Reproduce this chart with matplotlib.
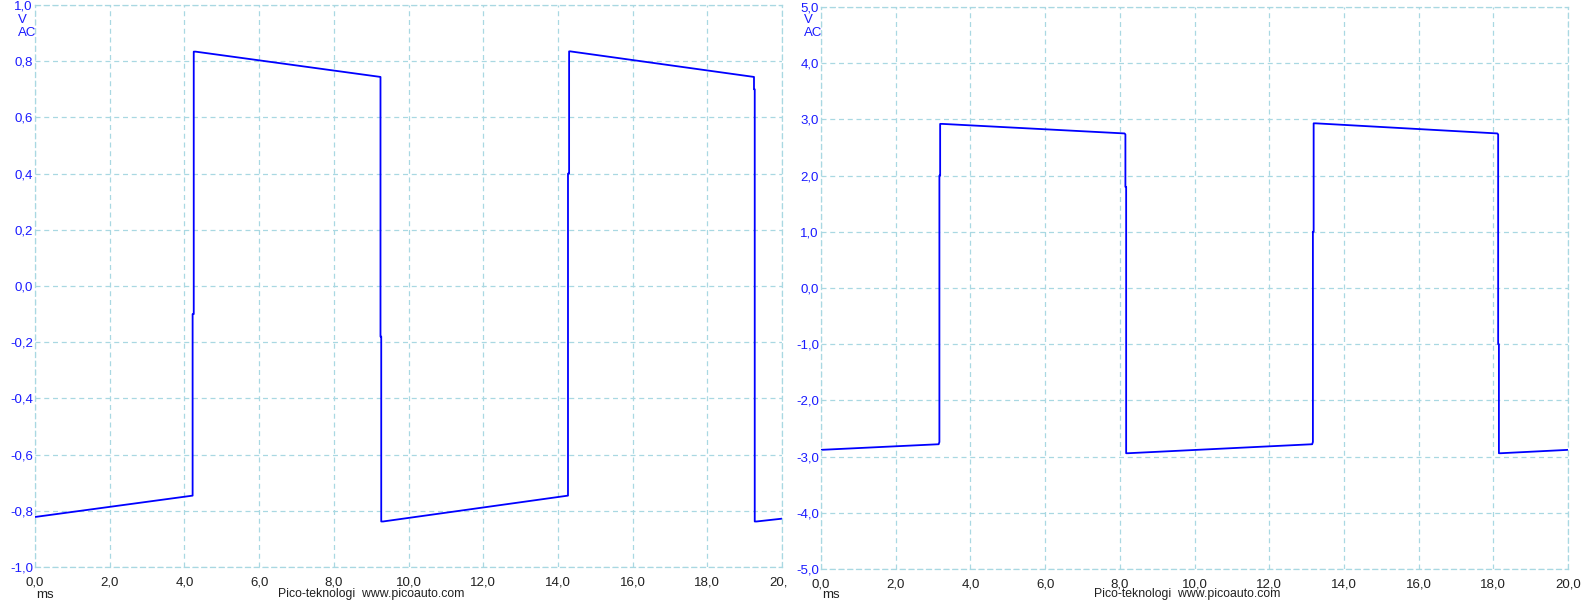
import numpy as np
import matplotlib.pyplot as plt
from matplotlib.transforms import Bbox, TransformedBbox

# Left trace (ms, V)
left_t = [0.0, 4.22, 4.22, 4.25, 4.25, 4.30, 9.25, 9.25, 9.27, 9.27, 9.32,
          14.27, 14.27, 14.30, 14.30, 14.33, 19.25, 19.25, 19.27, 19.27, 19.32, 20.0]
left_v = [-0.822, -0.746, -0.10, -0.10, 0.834, 0.834, 0.744, -0.18, -0.18, -0.838, -0.838,
          -0.746, 0.40, 0.40, 0.835, 0.835, 0.744, 0.70, 0.70, -0.838, -0.838, -0.828]

# Right trace (ms, V)
right_t = [0.0, 3.15, 3.17, 3.17, 3.19, 3.19, 3.25, 8.13, 8.15, 8.15, 8.17, 8.17, 8.22,
           13.15, 13.17, 13.17, 13.19, 13.19, 13.25, 18.11, 18.13, 18.13, 18.15, 18.15, 18.2, 20.0]
right_v = [-2.88, -2.78, -2.74, 2.0, 2.0, 2.92, 2.92, 2.75, 2.73, 1.8, 1.8, -2.94, -2.94,
           -2.78, -2.74, 1.0, 1.0, 2.93, 2.93, 2.75, 2.73, -1.0, -1.0, -2.94, -2.94, -2.88]

x_ticks = np.arange(0, 21, 2)
left_yticks = np.round(np.arange(-1.0, 1.01, 0.2), 1)
right_yticks = np.arange(-5, 6, 1)

W, H = 1591, 600
fig = plt.figure(figsize=(W / 100, H / 100), dpi=100)
plt.rcParams['font.family'] = ['Liberation Sans', 'DejaVu Sans']

grid_col = '#a9d8e2'
dash = (0, (4, 3))
fs = 9.5


def fmt(v):
    return f"{v:.1f}".replace('.', ',').replace('-0,0', '0,0')


def panel(px0, px1, py_top, py_bot, t, v, yticks, ylim, footer_x, clip_right=None):
    ax = fig.add_axes([px0 / W, 1 - py_bot / H, (px1 - px0) / W, (py_bot - py_top) / H])
    ax.plot(t, v, color='#0000ff', lw=1.3)
    ax.set_xlim(0, 20)
    ax.set_ylim(*ylim)
    ax.set_xticks(x_ticks)
    ax.set_yticks(yticks)
    ax.grid(True, color=grid_col, linestyle=dash, lw=0.9)
    for s in ax.spines.values():
        s.set_color(grid_col)
        s.set_linestyle(dash)
        s.set_linewidth(0.9)
    ax.tick_params(axis='y', length=0, pad=1.5)
    ax.tick_params(axis='x', length=0, pad=6.5)
    ax.set_xticklabels([fmt(x) for x in x_ticks], fontsize=fs, color='#202020')
    ax.set_yticklabels([fmt(y) for y in yticks], fontsize=fs, color='#1a1aff')
    if clip_right is not None:
        box = TransformedBbox(Bbox([[0, 0], [clip_right / W, 1]]), fig.transFigure)
        for lab in ax.get_xticklabels():
            lab.set_clip_box(box)
            lab.set_clip_on(True)
    # unit labels under the top tick
    fig.text((px0 - 17) / W, 1 - 20 / H, 'V', fontsize=fs, color='#1a1aff', va='center', ha='left')
    fig.text((px0 - 17) / W, 1 - 33 / H, 'AC', fontsize=fs, color='#1a1aff', va='center', ha='left')
    fig.text((px0 + 1) / W, 1 - 598 / H, 'ms', fontsize=fs, color='#202020', va='baseline', ha='left')
    fig.text(footer_x / W, 1 - 597 / H, 'Pico-teknologi  www.picoauto.com', fontsize=8.8,
             color='#202020', va='baseline', ha='center')
    return ax


panel(35, 782, 5, 567, left_t, left_v, left_yticks, (-1.0, 1.0), 371, clip_right=787)
panel(821, 1568, 7, 569, right_t, right_v, right_yticks, (-5, 5), 1187)

fig.savefig('out.png', dpi=100)
